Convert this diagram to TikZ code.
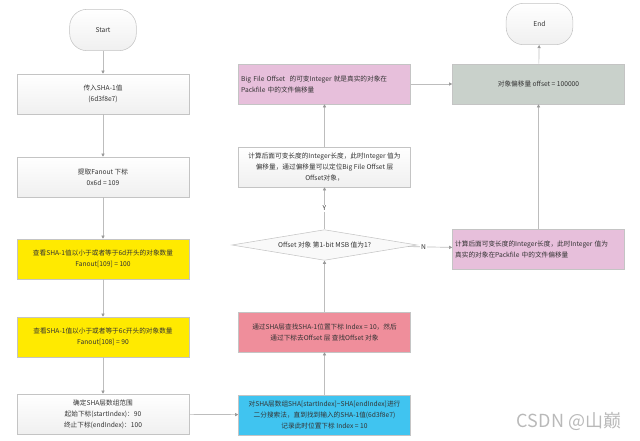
\documentclass[tikz,border=0pt]{standalone}
\usepackage{fontspec}
\setmainfont{Noto Sans CJK SC}
\usepackage{tikz}
\usetikzlibrary{shapes.geometric,arrows.meta}

\definecolor{boxline}{HTML}{C4C4C4}
\definecolor{flowline}{HTML}{BDBDBD}
\definecolor{txtgray}{HTML}{333333}
\definecolor{yelfill}{HTML}{FFEA00}
\definecolor{pinkfill}{HTML}{E7BFDB}
\definecolor{redfill}{HTML}{EF8E9B}
\definecolor{bluefill}{HTML}{40C4F0}
\definecolor{greenfill}{HTML}{C9D1CB}

\tikzset{
  every node/.style={font=\fontsize{5}{8.2}\selectfont, text=txtgray},
  plainbox/.style={draw=boxline, line width=0.4pt, top color=white, bottom color=gray!12,
    minimum width=129pt, minimum height=30pt, inner sep=2pt, align=center},
  colorbox/.style={draw=boxline, line width=0.4pt, fill=#1,
    minimum width=129pt, minimum height=30pt, inner sep=2pt, align=center},
  leftbox/.style={colorbox=#1, text width=125pt, align=left},
  terminal/.style={draw=boxline, line width=0.4pt, top color=white, bottom color=gray!12,
    rounded corners=13pt, minimum width=50pt, minimum height=31pt},
  decision/.style={draw=boxline, line width=0.4pt, fill=gray!5, diamond, aspect=6,
    minimum width=139pt, minimum height=23pt, inner sep=0pt},
  flow/.style={draw=flowline, line width=0.5pt, -{Triangle[length=2.4pt,width=2.4pt,color=gray!80]}},
  yesno/.style={fill=white, inner sep=1pt}
}

\begin{document}
\begin{tikzpicture}[x=0.75pt,y=0.75pt,yscale=-1,xscale=1]
\useasboundingbox (0,0) rectangle (640,440);

% Left column
\node [terminal] (start) at (103,30) {Start};
\node [plainbox] (sha) at (103,94) {传入SHA-1值\\(6d3f8e7)};
\node [plainbox] (fanout) at (103,177) {提取Fanout 下标\\0x6d = 109};
\node [colorbox=yelfill] (cnt109) at (103,259) {查看SHA-1值以小于或者等于6d开头的对象数量\\Fanout[109] = 100};
\node [colorbox=yelfill] (cnt108) at (103,337) {查看SHA-1值以小于或者等于6c开头的对象数量\\Fanout[108] = 90};
\node [plainbox] (range) at (103,414) {确定SHA层数组范围\\起始下标(startIndex)：90\\终止下标(endIndex)：100};

% Middle column
\node [colorbox=bluefill] (search) at (324.5,415) {对SHA层数组SHA[startIndex]\textasciitilde SHA[endIndex]进行\\二分搜索法，直到找到输入的SHA-1值(6d3f8e7)\\记录此时位置下标 Index = 10};
\node [colorbox=redfill] (lookup) at (324.5,332) {通过SHA层查找SHA-1位置下标 Index = 10，然后\\通过下标去Offset 层 查找Offset 对象};
\node [decision] (msb) at (324.5,245) {Offset 对象 第1-bit MSB 值为1?};
\node [plainbox] (calc) at (324.5,167) {计算后面可变长度的Integer长度，此时Integer 值为\\偏移量，通过偏移量可以定位Big File Offset 层\\Offset对象，};
\node [leftbox=pinkfill] (bigoff) at (324.5,84) {Big File Offset\ \ 的可变Integer 就是真实的对象在\\Packfile 中的文件偏移量};

% Right column
\node [terminal] (end) at (539.5,24) {End};
\node [colorbox=greenfill] (offset) at (538.5,84) {对象偏移量 offset = 100000};
\node [leftbox=pinkfill] (rest) at (538.5,249) {计算后面可变长度的Integer长度，此时Integer 值为\\真实的对象在Packfile 中的文件偏移量};

% Connectors
\draw [flow] (start) -- (sha);
\draw [flow] (sha) -- (fanout);
\draw [flow] (fanout) -- (cnt109);
\draw [flow] (cnt109) -- (cnt108);
\draw [flow] (cnt108) -- (range);
\draw [flow] (range) -- (search);
\draw [flow] (search) -- (lookup);
\draw [flow] (lookup) -- (msb);
\draw [flow] (msb) -- node [yesno, pos=0.5] {Y} (calc);
\draw [flow] (msb) -- node [yesno, pos=0.35] {N} (rest);
\draw [flow] (calc) -- (bigoff);
\draw [flow] (bigoff) -- (offset);
\draw [flow] (rest) -- (offset);
\draw [flow] (offset) -- (end);

% Watermark
\node [font=\fontsize{13.5}{15}\selectfont, text=gray!55] (mark) at (569,421) {CSDN @山巅};

\end{tikzpicture}
\end{document}
